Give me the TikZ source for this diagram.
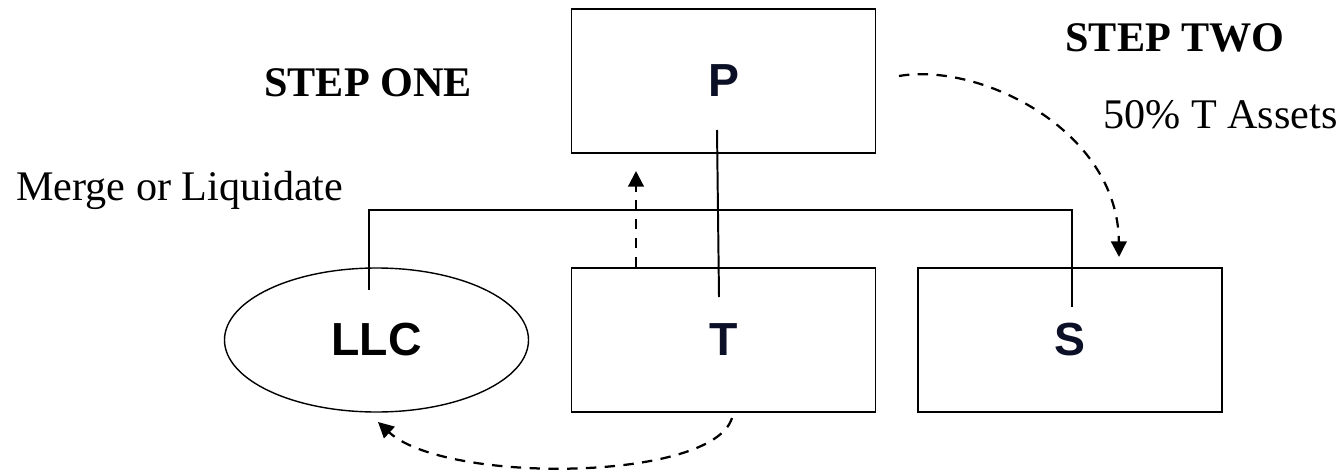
\documentclass[tikz,border=0pt]{standalone}
\usepackage{fontspec}
\setmainfont{Liberation Serif}
\setsansfont{Liberation Sans}
\usepackage{tikz}
\usepackage{xcolor}
\usetikzlibrary{
  positioning, arrows.meta, shapes.geometric, calc,
}
\definecolor{cLabel}     {HTML}{0B1026}
\definecolor{cLine}      {HTML}{000000}

\tikzset{
  entity/.style={draw=cLine, line width=1.3pt, minimum width=76mm, minimum height=36mm,
    inner sep=0pt, text=cLabel, font=\sffamily\bfseries\fontsize{33}{38}\selectfont},
  llcshape/.style={entity, ellipse, line width=1pt, text=black},
  steplabel/.style={inner sep=0pt, font=\bfseries\fontsize{30}{36}\selectfont},
  note/.style={inner sep=0pt, font=\fontsize{30}{36}\selectfont},
  tree/.style={draw=cLine, line width=1.4pt},
  flow/.style={draw=cLine, line width=1.6pt, dash pattern=on 2.6mm off 2.1mm,
    -{Triangle[length=3.9mm, width=3.9mm]}},
}

\begin{document}
\begin{tikzpicture}[x=0.25mm, y=-0.25mm]
  \useasboundingbox (0,0) rectangle (1341,472);

  % entities
  \node[entity]   (P)   at (723.5, 81)  {P};
  \node[entity]   (T)   at (723.5, 340) {T};
  \node[entity]   (S)   at (1070, 340)  {S};
  \node[llcshape] (LLC) at (376.5, 340) {LLC};

  % labels
  \node[steplabel] (stepOne) at (368, 83) {STEP ONE};
  \node[steplabel] (stepTwo) at (1175, 38) {STEP TWO};
  \node[note, anchor=base west] (assets) at (1103, 128) {50\% T Assets};
  \node[note, anchor=base west] (merge)  at (16, 200)   {Merge or Liquidate};

  % ownership lines
  \coordinate (llcEnd) at (369, 290);
  \coordinate (sEnd)   at (1072, 307);
  \coordinate (barY)   at (0, 210);
  \draw[tree] (llcEnd) -- (llcEnd |- barY) -- (sEnd |- barY) -- (sEnd);
  \coordinate (pEnd) at (717, 130);
  \coordinate (tEnd) at (719, 297);
  \draw[tree] (pEnd) -- (tEnd);

  % transfers
  \coordinate (upTip) at (636, 171);
  \draw[flow] (upTip |- T.north) -- (upTip);
  \coordinate (assetsStart) at (899, 76);
  \coordinate (assetsTip)   at (1119, 257);
  \draw[flow] (assetsStart) .. controls (980, 62) and (1118, 130) .. (assetsTip);
  \coordinate (mergeStart) at (732, 418);
  \coordinate (mergeTip)   at (378, 422);
  \draw[flow] (mergeStart) .. controls (712, 482) and (445, 484) .. (mergeTip);
\end{tikzpicture}
\end{document}
